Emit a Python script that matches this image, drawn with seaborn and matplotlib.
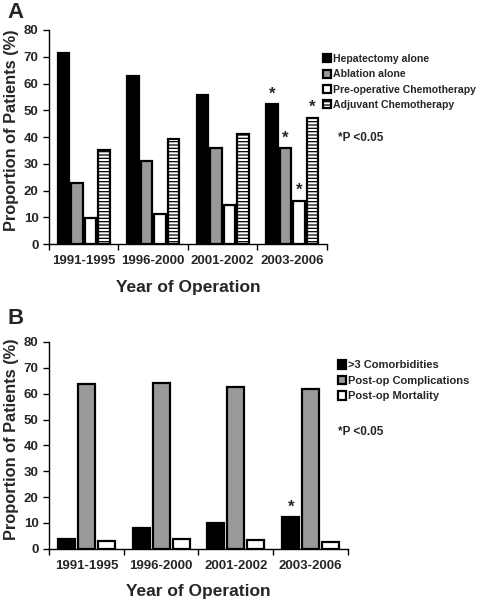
import numpy as np
import pandas as pd
import matplotlib
matplotlib.use("Agg")
import matplotlib.pyplot as plt
import seaborn as sns

# Data
periods = ['1991-1995', '1996-2000', '2001-2002', '2003-2006']

a_series = ['Hepatectomy alone', 'Ablation alone',
            'Pre-operative Chemotherapy', 'Adjuvant Chemotherapy']
hepatectomy = [71.5, 62.8, 55.8, 52.2]
ablation = [23.0, 31.0, 35.8, 35.8]
preop_chemo = [9.6, 11.2, 14.8, 16.2]
adjuvant_chemo = [35.0, 39.3, 41.3, 47.2]

b_series = ['>3 Comorbidities', 'Post-op Complications', 'Post-op Mortality']
comorbidities = [3.8, 8.2, 9.8, 12.3]
complications = [63.8, 64.2, 62.6, 62.0]
mortality = [2.8, 3.9, 3.3, 2.7]

# significance stars: (series, period)
a_stars = [(0, 3), (1, 3), (2, 3), (3, 3)]
b_stars = [(0, 3)]

sns.set_style("ticks")
plt.rcParams['font.family'] = ['Liberation Sans', 'DejaVu Sans']
plt.rcParams['font.weight'] = 'bold'
plt.rcParams['axes.labelweight'] = 'bold'
plt.rcParams['hatch.linewidth'] = 0.9
plt.rcParams['hatch.color'] = 'black'


def long_frame(names, arrays):
    rows = []
    for name, vals in zip(names, arrays):
        for p, v in zip(periods, vals):
            rows.append({'Period': p, 'Series': name, 'Value': v})
    return pd.DataFrame(rows)


def draw_panel(ax, df, names, colors, width, gap, stars, ylab_x):
    sns.barplot(data=df, x='Period', y='Value', hue='Series', hue_order=names,
                order=periods, palette=colors, width=width, gap=gap,
                edgecolor='black', linewidth=1.6, ax=ax, legend=False)
    ax.set_ylim(0, 80)
    ax.set_yticks(range(0, 81, 10))
    ax.set_xlim(-0.5, 3.5)
    ax.set_xticks(np.arange(-0.5, 4, 1), minor=True)
    ax.tick_params(axis='x', which='major', length=0, pad=8, labelsize=9.5)
    ax.tick_params(axis='x', which='minor', length=4, width=1, color='black')
    ax.tick_params(axis='y', length=4, width=1, color='black', labelsize=9.5)
    for lab in ax.get_xticklabels() + ax.get_yticklabels():
        lab.set_fontweight('bold')
    ax.set_ylabel('Proportion of Patients (%)', fontsize=11.8, fontweight='bold')
    ax.yaxis.set_label_coords(ylab_x, 0.53)
    ax.set_xlabel('Year of Operation', fontsize=12.5, fontweight='bold', labelpad=9)
    sns.despine(ax=ax)
    for sp in ['left', 'bottom']:
        ax.spines[sp].set_linewidth(1.0)
        ax.spines[sp].set_color('black')
    for s, p in stars:
        bar = ax.containers[s].patches[p]
        ax.text(bar.get_x() + bar.get_width() / 2, bar.get_height() + 1.0, '*',
                ha='center', va='bottom', fontsize=12, fontweight='bold')


fig = plt.figure(figsize=(4.85, 6.0), dpi=100)

# Panel A
ax_a = fig.add_axes([0.101, 0.593, 0.573, 0.357])
df_a = long_frame(a_series, [hepatectomy, ablation, preop_chemo, adjuvant_chemo])
draw_panel(ax_a, df_a, a_series, ['black', '#999999', 'white', 'white'],
           0.78, 0.15, a_stars, -0.108)
for bar in ax_a.containers[3].patches:
    bar.set_hatch('-----')
fig.legend(handles=ax_a.containers, labels=a_series, loc='upper left',
           bbox_to_anchor=(0.667, 0.91), frameon=False,
           handlelength=0.75, handleheight=0.8, handletextpad=0.15,
           labelspacing=0.5, borderaxespad=0, borderpad=0,
           prop={'weight': 'bold', 'size': 7.6})
fig.text(0.697, 0.77, '*P <0.05', fontsize=8.5, fontweight='bold', va='center')
fig.text(0.015, 0.98, 'A', fontsize=16, fontweight='bold', va='center')

# Panel B
ax_b = fig.add_axes([0.101, 0.0855, 0.6165, 0.3445])
df_b = long_frame(b_series, [comorbidities, complications, mortality])
draw_panel(ax_b, df_b, b_series, ['black', '#999999', 'white'],
           0.8, 0.15, b_stars, -0.1)
fig.legend(handles=ax_b.containers, labels=b_series, loc='upper left',
           bbox_to_anchor=(0.697, 0.4), frameon=False,
           handlelength=0.75, handleheight=0.8, handletextpad=0.15,
           labelspacing=0.5, borderaxespad=0, borderpad=0,
           prop={'weight': 'bold', 'size': 8})
fig.text(0.697, 0.28, '*P <0.05', fontsize=8.5, fontweight='bold', va='center')
fig.text(0.015, 0.47, 'B', fontsize=16, fontweight='bold', va='center')

fig.savefig('out.png', dpi=100, facecolor='white')
